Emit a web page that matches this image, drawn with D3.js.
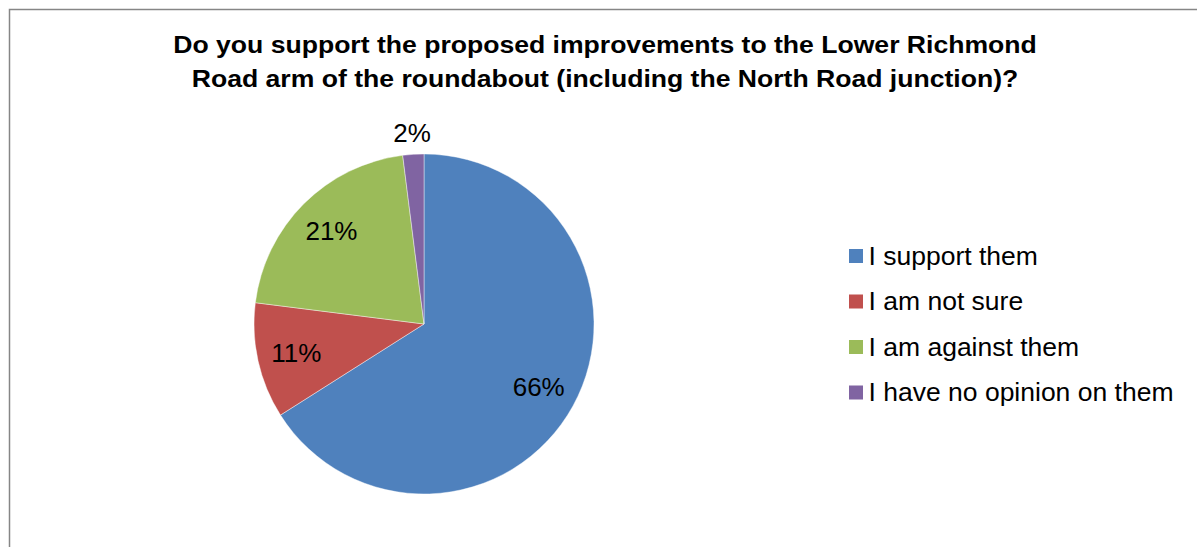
<!DOCTYPE html>
<html>
<head>
<meta charset="utf-8">
<script src="https://cdn.jsdelivr.net/npm/d3@7"></script>
<style>
  html, body { margin: 0; padding: 0; background: #fff; }
  svg { display: block; font-family: "Liberation Sans", Arial, sans-serif; }
</style>
</head>
<body>
<svg id="chart" width="1197" height="547"></svg>
<script>
// Survey responses
const categories = ["I support them", "I am not sure", "I am against them", "I have no opinion on them"];
const values = [66, 11, 21, 2];
const colors = ["#4f81bd", "#c0504d", "#9bbb59", "#8064a2"];
const titleLines = [
  "Do you support the proposed improvements to the Lower Richmond",
  "Road arm of the roundabout (including the North Road junction)?"
];

const svg = d3.select("#chart");

// Chart area frame (continues past the right and bottom of the view)
svg.append("rect")
  .attr("x", 9.5).attr("y", 9.5)
  .attr("width", 1400).attr("height", 1000)
  .attr("fill", "#fff")
  .attr("stroke", "#868686")
  .attr("stroke-width", 1.5);

// Title, slightly widened
svg.append("g")
  .attr("transform", "translate(605,0) scale(1.085,1)")
  .append("text")
  .attr("text-anchor", "middle")
  .attr("font-weight", "bold")
  .attr("font-size", 24.5)
  .attr("fill", "#000")
  .selectAll("tspan")
  .data(titleLines)
  .join("tspan")
  .attr("x", 0)
  .attr("y", (d, i) => 53.5 + i * 33.5)
  .text(d => d);

// Pie
const cx = 424, cy = 324, r = 170;
const data = categories.map((c, i) => ({ name: c, value: values[i], color: colors[i] }));
const pie = d3.pie().value(d => d.value).sort(null);
const arcs = pie(data);
const arc = d3.arc().innerRadius(0).outerRadius(r);

const g = svg.append("g").attr("transform", `translate(${cx},${cy})`);
g.selectAll("path")
  .data(arcs)
  .join("path")
  .attr("d", arc)
  .attr("fill", d => d.data.color)
  .attr("stroke", "#ffffff")
  .attr("stroke-width", 0.6)
  .attr("stroke-opacity", 0.7);

// Percentage labels: inside for large slices, outside for the small one
const insideArc = d3.arc().innerRadius(r * 0.77).outerRadius(r * 0.77);
const labelPos = d => {
  if (d.data.value < 5) {
    const a = (d.startAngle + d.endAngle) / 2;
    const rr = r + 21;
    return [Math.sin(a) * rr, -Math.cos(a) * rr];
  }
  return insideArc.centroid(d);
};
g.selectAll("text.lbl")
  .data(arcs)
  .join("text")
  .attr("class", "lbl")
  .attr("x", d => labelPos(d)[0])
  .attr("y", d => labelPos(d)[1])
  .attr("text-anchor", "middle")
  .attr("dominant-baseline", "central")
  .attr("font-size", 26)
  .attr("fill", "#000")
  .text(d => d3.format(".0f")(d.data.value) + "%");

// Legend
const legend = svg.append("g").attr("transform", "translate(849,256)");
const rows = legend.selectAll("g")
  .data(data)
  .join("g")
  .attr("transform", (d, i) => `translate(0,${i * 45.5})`);
rows.append("rect")
  .attr("x", 0).attr("y", -7)
  .attr("width", 14).attr("height", 14)
  .attr("fill", d => d.color);
rows.append("text")
  .attr("x", 19.5)
  .attr("y", 8.5)
  .attr("font-size", 26.5)
  .attr("fill", "#000")
  .text(d => d.name);
</script>
</body>
</html>
